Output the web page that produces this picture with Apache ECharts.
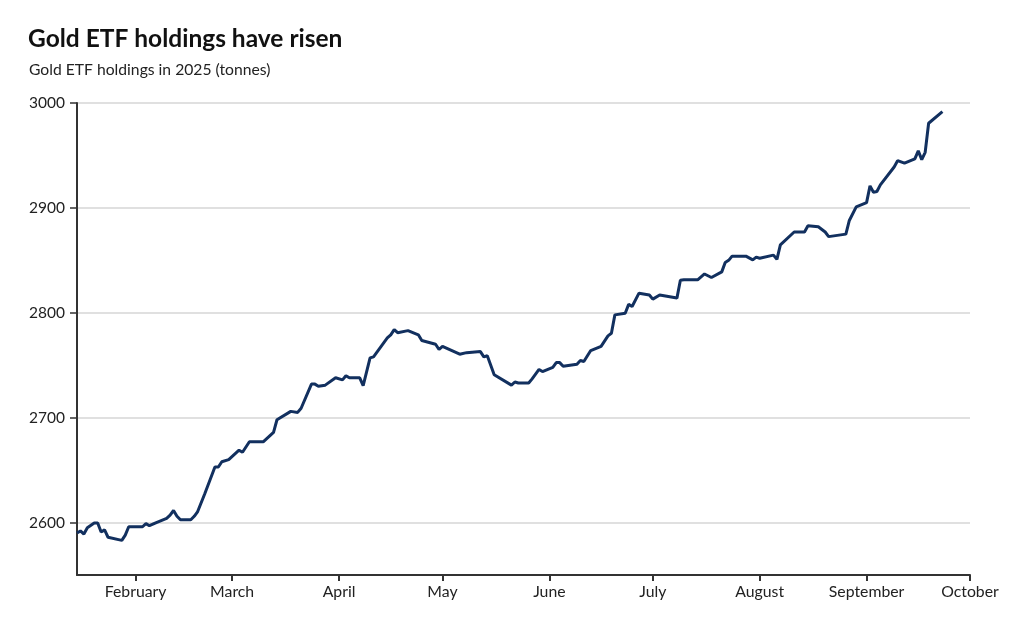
<!DOCTYPE html>
<html><head><meta charset="utf-8">
<script src="https://cdn.jsdelivr.net/npm/echarts@6/dist/echarts.min.js"></script>
<style>html,body{margin:0;padding:0;background:#fff}#c{width:1024px;height:618px}</style>
</head><body><div id="c"></div>
<script>
const dates = [
 '2025-01-15','2025-01-16','2025-01-17','2025-01-18','2025-01-20','2025-01-21','2025-01-22','2025-01-23','2025-01-24','2025-01-28',
 '2025-01-29','2025-01-30','2025-02-03','2025-02-04','2025-02-05','2025-02-07','2025-02-10','2025-02-11','2025-02-12','2025-02-13',
 '2025-02-14','2025-02-17','2025-02-18','2025-02-19','2025-02-21','2025-02-24','2025-02-25','2025-02-26','2025-02-28','2025-03-03',
 '2025-03-04','2025-03-06','2025-03-10','2025-03-13','2025-03-14','2025-03-18','2025-03-20','2025-03-21','2025-03-24','2025-03-25',
 '2025-03-26','2025-03-28','2025-03-31','2025-04-02','2025-04-03','2025-04-04','2025-04-07','2025-04-08','2025-04-10','2025-04-11',
 '2025-04-15','2025-04-16','2025-04-17','2025-04-18','2025-04-21','2025-04-24','2025-04-25','2025-04-29','2025-04-30','2025-05-01',
 '2025-05-06','2025-05-08','2025-05-12','2025-05-13','2025-05-14','2025-05-16','2025-05-21','2025-05-22','2025-05-23','2025-05-26',
 '2025-05-27','2025-05-29','2025-05-30','2025-06-02','2025-06-03','2025-06-04','2025-06-05','2025-06-09','2025-06-10','2025-06-11',
 '2025-06-13','2025-06-16','2025-06-18','2025-06-19','2025-06-20','2025-06-23','2025-06-24','2025-06-25','2025-06-27','2025-06-30',
 '2025-07-01','2025-07-03','2025-07-08','2025-07-09','2025-07-10','2025-07-14','2025-07-16','2025-07-18','2025-07-21','2025-07-22',
 '2025-07-23','2025-07-24','2025-07-28','2025-07-30','2025-07-31','2025-08-01','2025-08-05','2025-08-06','2025-08-07','2025-08-11',
 '2025-08-14','2025-08-15','2025-08-18','2025-08-20','2025-08-21','2025-08-26','2025-08-27','2025-08-29','2025-09-01','2025-09-02',
 '2025-09-03','2025-09-04','2025-09-05','2025-09-09','2025-09-10','2025-09-12','2025-09-15','2025-09-16','2025-09-17','2025-09-18',
 '2025-09-19','2025-09-23'
];
const holdings = [
 2590,2592,2589,2595,2599.5,2599.5,2591,2593,2586,2583,
 2588,2596,2596,2599,2597,2600,2604,2607,2611.5,2606,
 2602.6,2602.6,2606,2610.5,2627,2653,2653,2658,2660,2669,
 2667,2677,2677,2686,2698,2706,2705,2709,2732,2732,
 2730,2731,2738,2736,2740,2738,2738,2730.6,2757,2758,
 2776,2779,2784,2781,2783,2779,2773.5,2770,2765,2768,
 2760.5,2762,2763,2758,2759,2741,2731,2734,2733,2733,
 2737,2746,2744,2748,2752.5,2752.5,2749,2751,2754.5,2753.5,
 2764,2768,2778,2780.5,2798,2799.6,2808,2806,2818.7,2817,
 2813,2817,2814,2831,2831.4,2831.4,2837,2833.6,2839,2848,
 2850,2854,2854,2850.4,2853,2852,2855,2851,2864.7,2877,
 2877,2883,2882,2877,2872.6,2875,2888,2901,2905,2921,
 2915,2915.6,2922,2939,2945,2942.6,2946.7,2954.4,2946,2953,
 2980.7,2991.8
];
const monthTicks = ['2025-02-01','2025-03-01','2025-04-01','2025-05-01','2025-06-01','2025-07-01','2025-08-01','2025-09-01','2025-10-01'];
const monthLabels = ['February','March','April','May','June','July','August','September','October'];
const yTicks = [2600, 2700, 2800, 2900, 3000];
const xStart = '2025-01-15';
const xEnd = '2025-10-01';
const yMin = 2550, yMax = 3000;

const ts = d => Date.UTC(+d.slice(0,4), +d.slice(5,7) - 1, +d.slice(8,10));
const tickTs = monthTicks.map(ts);
const chart = echarts.init(document.getElementById('c'), null, {renderer: 'canvas'});
const font = 'Lato, "Noto Sans", sans-serif';
chart.setOption({
  animation: false,
  backgroundColor: '#fff',
  title: [{
    text: 'Gold ETF holdings have risen',
    left: 28, top: 27, padding: 0,
    textStyle: {fontFamily: font, fontSize: 24.5, fontWeight: 'bold', color: '#111'}
  }, {
    text: 'Gold ETF holdings in 2025 (tonnes)',
    left: 29, top: 62, padding: 0,
    textStyle: {fontFamily: font, fontSize: 15.7, fontWeight: 'normal', color: '#222'}
  }],
  grid: {left: 77, right: 54, top: 103, bottom: 43, containLabel: false},
  xAxis: {
    type: 'value',
    min: ts(xStart),
    max: ts(xEnd),
    axisLine: {show: true, lineStyle: {color: '#333', width: 2}},
    axisTick: {show: true, customValues: tickTs, length: 6, lineStyle: {color: '#333', width: 2}},
    axisLabel: {
      customValues: tickTs,
      fontFamily: font, fontSize: 15.8, color: '#222', margin: 9,
      formatter: function (v) {
        const i = tickTs.indexOf(v);
        return i >= 0 ? monthLabels[i] : '';
      }
    },
    splitLine: {show: false}
  },
  yAxis: {
    type: 'value',
    min: yMin, max: yMax,
    axisLine: {show: true, lineStyle: {color: '#333', width: 2}},
    axisTick: {show: true, customValues: yTicks, length: 7, lineStyle: {color: '#333', width: 1.5}},
    axisLabel: {customValues: yTicks, fontFamily: font, fontSize: 15.5, color: '#222', margin: 12,
      formatter: v => String(v)},
    splitLine: {show: true, lineStyle: {color: '#d6d6d6', width: 1.5}}
  },
  series: [{
    type: 'line',
    data: dates.map((d, i) => [ts(d), holdings[i]]),
    showSymbol: false,
    lineStyle: {color: '#12305f', width: 3},
    z: 5
  }]
});
</script></body></html>
